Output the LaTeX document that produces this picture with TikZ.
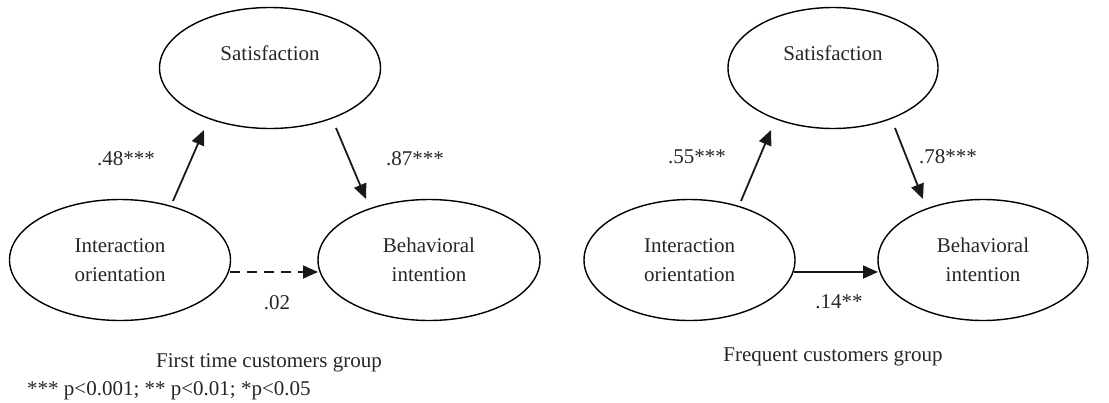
\documentclass[tikz,border=0pt]{standalone}
\usepackage{fontspec}
\setmainfont{Liberation Serif}
\usetikzlibrary{shapes.geometric,arrows.meta,calc}
\begin{document}
\begin{tikzpicture}[x=1pt,y=-1pt,
  every node/.style={font=\rmfamily\fontsize{21}{29}\selectfont, inner sep=0pt, text=black!85},
  latent/.style={draw=black, ellipse, line width=1.4pt, align=center},
  arr/.style={line width=1.8pt, draw=black!90, -{Triangle[length=15pt,width=13pt]}},
  darr/.style={arr, dash pattern=on 10pt off 7pt},
  coef/.style={anchor=center}]
\useasboundingbox (0,0) rectangle (1109,402);
% left model
\node[latent, minimum width=221pt, minimum height=121pt] (sat1) at (270,68) {};
\node (sat1t) at (270,53) {Satisfaction};
\node[latent, minimum width=221pt, minimum height=121pt] (io1) at (120,260) {Interaction\\orientation};
\node[latent, minimum width=222pt, minimum height=121pt] (bi1) at (429,260) {Behavioral\\intention};
\draw[arr] ($(io1.center)+(53,-59)$) -- ($(sat1.center)+(-66,62)$);
\draw[arr] ($(sat1.center)+(66,60)$) -- ($(bi1.center)+(-63,-61)$);
\draw[darr] ($(io1.center)+(110,12)$) -- ($(bi1.center)+(-111,12)$);
\node[coef] (c1) at (126,159) {.48***};
\node[coef] (c2) at (415,159) {.87***};
\node[coef] (c3) at (277,303) {.02};
\node (cap1) at (269,363) {First time customers group};
\node[anchor=west] (foot) at (27,391) {*** p<0.001; ** p<0.01; *p<0.05};
% right model
\node[latent, minimum width=210pt, minimum height=121pt] (sat2) at (833,68) {};
\node (sat2t) at (833,53) {Satisfaction};
\node[latent, minimum width=211pt, minimum height=121pt] (io2) at (689.5,260) {Interaction\\orientation};
\node[latent, minimum width=210pt, minimum height=121pt] (bi2) at (983,260) {Behavioral\\intention};
\draw[arr] ($(io2.center)+(51.5,-59)$) -- ($(sat2.center)+(-62,62)$);
\draw[arr] ($(sat2.center)+(62,60)$) -- ($(bi2.center)+(-60,-61)$);
\draw[arr] ($(io2.center)+(104.5,12)$) -- ($(bi2.center)+(-105,12)$);
\node[coef] (c4) at (697,157) {.55***};
\node[coef] (c5) at (948,157) {.78***};
\node[coef] (c6) at (839,302) {.14**};
\node (cap2) at (833,357) {Frequent customers group};
\end{tikzpicture}
\end{document}
